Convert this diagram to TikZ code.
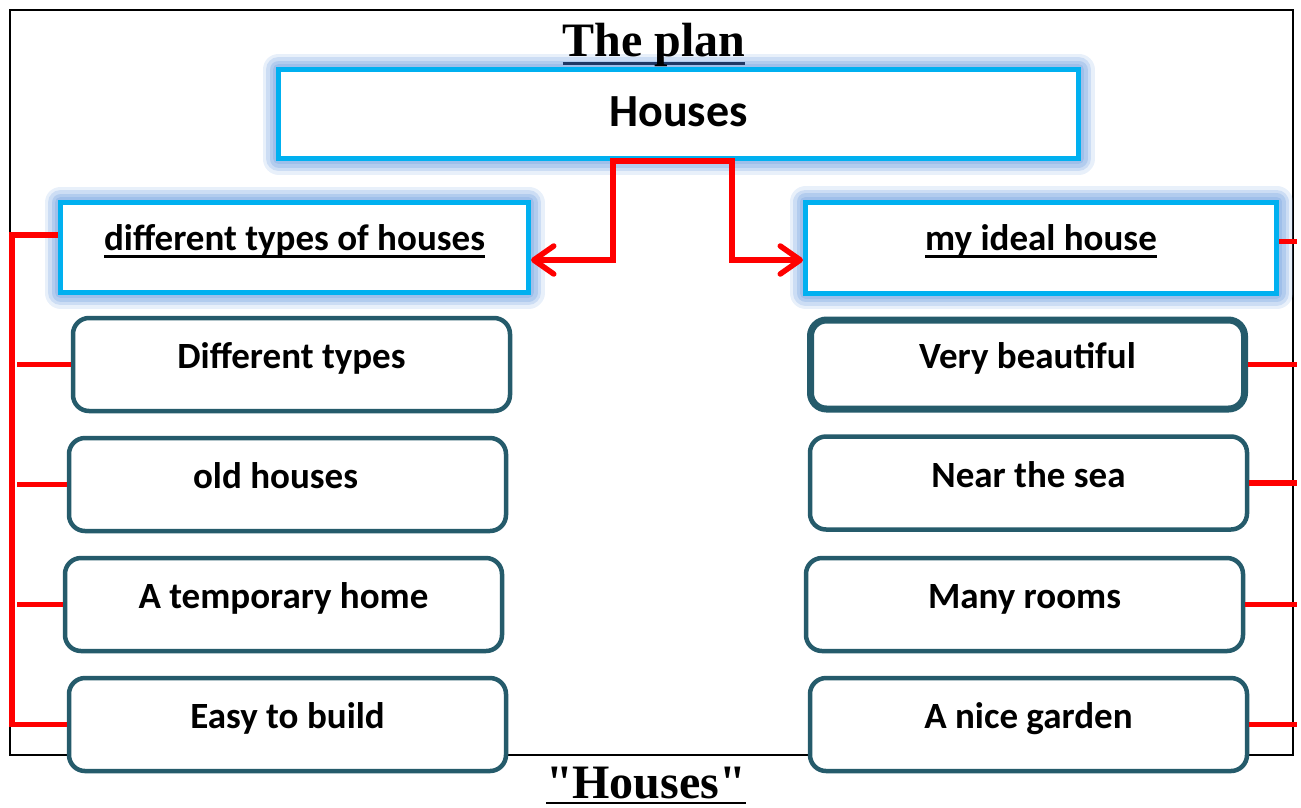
\documentclass[tikz,border=0pt]{standalone}
\usepackage{fontspec}
\setmainfont{Carlito}
\newfontfamily\tnr{Liberation Serif}
\usetikzlibrary{arrows.meta}
\definecolor{cyanb}{HTML}{00B0F0}
\definecolor{glowc}{HTML}{8CB2E6}
\definecolor{tealb}{HTML}{255B6B}
\definecolor{navyu}{HTML}{1F3864}
\newcommand\myul[4]{\setbox0\hbox{#4}\rlap{\color{#1}\rule[#3]{\wd0}{#2}}\box0}
\begin{document}
\begin{tikzpicture}[x=1pt,y=-1pt,
  hdr/.style={draw=cyanb, line width=5pt, fill=white, rectangle, inner sep=0pt,
     preaction={draw=glowc, line width=32pt, opacity=0.2, line join=round},
     preaction={draw=glowc, line width=25pt, opacity=0.3, line join=round},
     preaction={draw=glowc, line width=18pt, opacity=0.4, line join=round},
     preaction={draw=glowc, line width=11pt, opacity=0.5, line join=round}},
  hfont/.style={font=\bfseries\fontsize{37}{40}\selectfont},
  item/.style={draw=tealb, line width=4.5pt, fill=white, rounded corners=16pt,
     minimum width=437pt, minimum height=93pt, inner sep=0pt, hfont,
     text height=24pt, text depth=16pt},
  conn/.style={draw=red, line width=5.5pt},
  arr/.style={-{Straight Barb[length=20pt,width=28pt,round]}},
  frame/.style={draw=black, line width=1.5pt}]
\useasboundingbox (0,0) rectangle (1301,807);
\draw[frame] (10,10) rectangle (1293,755);

\node[hdr, minimum width=800pt, minimum height=89pt,
      font=\bfseries\fontsize{46}{50}\selectfont, text height=30pt, text depth=6pt]
      (houses) at (678.5,114) {Houses};
\node[anchor=base, inner sep=0pt, font=\tnr\bfseries\fontsize{48}{52}\selectfont]
      (title) at (654,56) {\myul{navyu}{3.5pt}{-9pt}{The plan}};

\node[hdr, minimum width=468pt, minimum height=90pt, hfont, text height=26pt, text depth=20pt]
      (hl) at (294.5,247.5) {\myul{black}{2.5pt}{-7pt}{different types of houses}};
\node[hdr, minimum width=471pt, minimum height=91pt, hfont, text height=26pt, text depth=20pt]
      (hr) at (1041,247.5) {\myul{black}{2.5pt}{-7pt}{my ideal house}};

\node[item] (L1) at (291.5,364.5) {Different types};
\node[item] (L2) at (287.5,484.5) {old houses\kern24pt};
\node[item] (L3) at (283.5,604.5) {A temporary home};
\node[item] (L4) at (287.5,724.5) {Easy to build};

\node[item, line width=7pt, minimum width=434pt, minimum height=89pt] (R1) at (1027.5,364.5) {Very beautiful};
\node[item] (R2) at (1028.5,483) {Near the sea};
\node[item] (R3) at (1024.5,604.5) {Many rooms};
\node[item] (R4) at (1028.5,724.5) {A nice garden};

\node[anchor=base, inner sep=0pt, font=\tnr\bfseries\fontsize{48}{52}\selectfont]
      (sub) at (646,798) {\myul{black}{2pt}{-6pt}{"Houses"}};

% connectors from the main box
\draw[conn, line cap=rect] ([xshift=-65.5pt]houses.south) -- ([xshift=53.5pt]houses.south);
\draw[conn, arr] ([xshift=-65.5pt]houses.south) |- ([yshift=-12.5pt]hl.east);
\draw[conn, arr] ([xshift=53.5pt]houses.south) |- ([yshift=-12.5pt]hr.west);

% left bracket
\coordinate (lcorner) at ([xshift=-55pt]L4.west);
\draw[conn] ([yshift=12.5pt]hl.west) -| (lcorner) -- (L4.west);
\coordinate (lx) at (17,0);
\draw[conn] (L1.west) -- (L1.west -| lx);
\draw[conn] (L2.west) -- (L2.west -| lx);
\draw[conn] (L3.west) -- (L3.west -| lx);

% right ticks
\coordinate (rx) at (1297,0);
\coordinate (hrt) at ([yshift=6pt]hr.east);
\draw[conn] (hrt) -- (hrt -| rx);
\draw[conn] (R1.east) -- (R1.east -| rx);
\draw[conn] (R2.east) -- (R2.east -| rx);
\draw[conn] (R3.east) -- (R3.east -| rx);
\draw[conn] (R4.east) -- (R4.east -| rx);
\end{tikzpicture}
\end{document}
